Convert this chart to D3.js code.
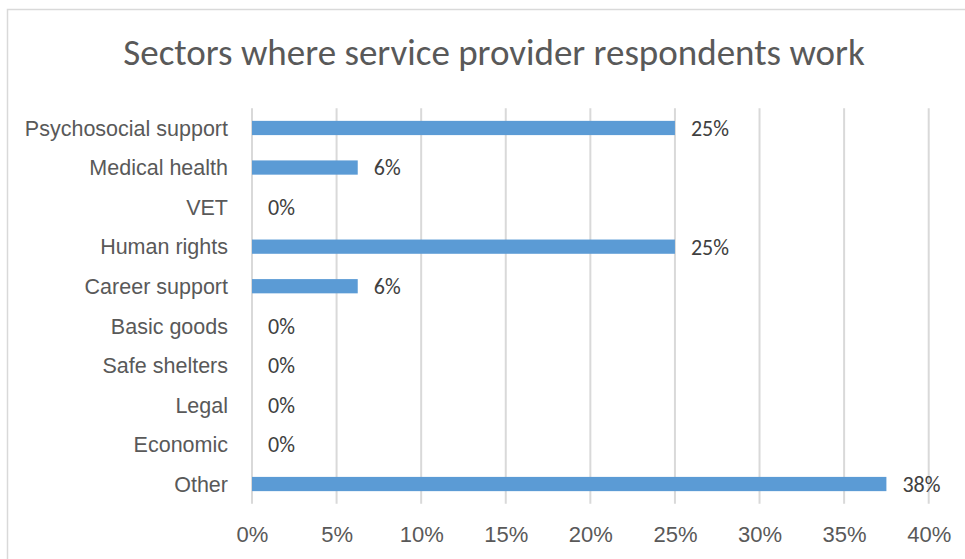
<!DOCTYPE html>
<html>
<head>
<meta charset="utf-8">
<script src="https://cdn.jsdelivr.net/npm/d3@7/dist/d3.min.js"></script>
<style>
  html, body { margin: 0; padding: 0; background: #ffffff; }
  svg { display: block; font-family: Carlito, Calibri, Lato, sans-serif; }
</style>
</head>
<body>
<svg id="chart" width="965" height="559"></svg>
<script>
// Share of service provider respondents by sector
const categories = [
  "Psychosocial support", "Medical health", "VET", "Human rights",
  "Career support", "Basic goods", "Safe shelters", "Legal", "Economic", "Other"
];
const shares = [0.25, 0.0625, 0, 0.25, 0.0625, 0, 0, 0, 0, 0.375];
const tickValues = [0, 0.05, 0.10, 0.15, 0.20, 0.25, 0.30, 0.35, 0.40];
const titleText = "Sectors where service provider respondents work";

const svg = d3.select("#chart");
const plot = { left: 252, right: 928.7, top: 108.2, bottom: 503.8 };

// chart frame
svg.append("rect")
  .attr("x", 7.5).attr("y", 9.5)
  .attr("width", 1200).attr("height", 1200)
  .attr("fill", "none").attr("stroke", "#d9d9d9").attr("stroke-width", 1.5);

svg.append("text")
  .attr("x", 494).attr("y", 65)
  .attr("text-anchor", "middle")
  .attr("fill", "#595959")
  .attr("font-size", 37)
  .text(titleText);

const x = d3.scaleLinear().domain([0, 0.40]).range([plot.left, plot.right]);
const y = d3.scaleBand().domain(categories).range([plot.top, plot.bottom]).paddingInner(0.64).paddingOuter(0.32);

// vertical gridlines
svg.append("g")
  .selectAll("line")
  .data(tickValues)
  .join("line")
  .attr("x1", d => x(d)).attr("x2", d => x(d))
  .attr("y1", plot.top).attr("y2", plot.bottom)
  .attr("stroke", "#d9d9d9").attr("stroke-width", 2);

// bottom axis labels
const xAxis = d3.axisBottom(x).tickValues(tickValues).tickFormat(d3.format(".0%")).tickSize(0).tickPadding(0);
const gx = svg.append("g").attr("transform", `translate(0,${plot.bottom})`).call(xAxis);
gx.select(".domain").remove();
gx.selectAll("text")
  .attr("y", 38).attr("dy", null)
  .attr("fill", "#595959")
  .attr("font-size", 22)
  .attr("font-family", null);

// category labels
const yAxis = d3.axisLeft(y).tickSize(0).tickPadding(0);
const gy = svg.append("g").attr("transform", `translate(${plot.left - 24},0)`).call(yAxis);
gy.select(".domain").remove();
gy.selectAll("text")
  .attr("x", 0).attr("dy", "0.36em")
  .attr("fill", "#595959")
  .attr("font-size", 21.5)
  .attr("font-family", null);

// bars
svg.append("g")
  .selectAll("rect")
  .data(categories.map((c, i) => ({ c, v: shares[i] })))
  .join("rect")
  .attr("x", x(0))
  .attr("y", d => y(d.c))
  .attr("width", d => x(d.v) - x(0))
  .attr("height", y.bandwidth())
  .attr("fill", "#5b9bd5");

// value labels
svg.append("g")
  .selectAll("text")
  .data(categories.map((c, i) => ({ c, v: shares[i] })))
  .join("text")
  .attr("x", d => x(d.v) + 16)
  .attr("y", d => y(d.c) + y.bandwidth() / 2)
  .attr("dy", "0.36em")
  .attr("fill", "#404040")
  .attr("font-size", 22)
  .text(d => d3.format(".0%")(d.v));
</script>
</body>
</html>
